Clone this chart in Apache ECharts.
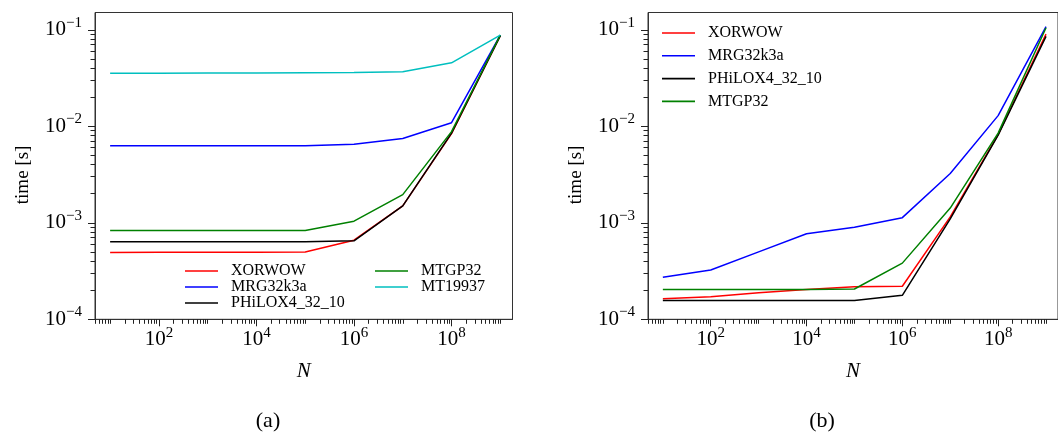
<!DOCTYPE html>
<html>
<head>
<meta charset="utf-8">
<script src="https://cdn.jsdelivr.net/npm/echarts@6/dist/echarts.min.js"></script>
<style>html,body{margin:0;padding:0;background:#fff}#c{width:1058px;height:432px}</style>
</head>
<body>
<div id="c"></div>
<script>
// ---------- data ----------
const N_values = [1e1, 1e2, 1e3, 1e4, 1e5, 1e6, 1e7, 1e8, 1e9];

// panel (a)
const a_XORWOW   = [0.000492, 0.000494, 0.000496, 0.000495, 0.000497, 0.00066, 0.0015, 0.0084, 0.087];
const a_MRG32k3a = [0.00628, 0.00628, 0.00628, 0.00628, 0.00628, 0.00653, 0.00748, 0.0109, 0.088];
const a_PHILOX   = [0.000635, 0.000635, 0.000635, 0.000635, 0.000638, 0.000650, 0.00150, 0.0085, 0.087];
const a_MTGP32   = [0.00083, 0.00083, 0.00083, 0.00083, 0.00083, 0.00104, 0.00196, 0.0088, 0.088];
const a_MT19937  = [0.0355, 0.0355, 0.0357, 0.0357, 0.0359, 0.036, 0.0367, 0.0455, 0.088];

// panel (b)
const b_XORWOW   = [0.000163, 0.000171, 0.000188, 0.000204, 0.000217, 0.00022, 0.00115, 0.0082, 0.09];
const b_MRG32k3a = [0.000273, 0.000324, 0.0005, 0.000769, 0.0009, 0.00113, 0.00324, 0.0129, 0.108];
const b_PHILOX   = [0.000157, 0.000157, 0.000157, 0.000157, 0.000157, 0.000177, 0.0011, 0.0081, 0.0853];
const b_MTGP32   = [0.000204, 0.000204, 0.000204, 0.000204, 0.000206, 0.000382, 0.00142, 0.0085, 0.105];

// axis ticks
const xMajorTicks = [1e2, 1e4, 1e6, 1e8];
const yMajorTicks = [1e-4, 1e-3, 1e-2, 1e-1];
const xMin = Math.pow(10, 0.69), xMax = Math.pow(10, 9.25);
const yMin = 1e-4, yMax = Math.pow(10, -0.821);

function minorTicks(lo, hi, skip) {
  const out = [];
  for (let e = -6; e <= 10; e++) {
    for (let k = 1; k <= 9; k++) {
      const v = k * Math.pow(10, e);
      if (v < lo * 0.9999 || v > hi * 1.0001) continue;
      if (skip.some(s => Math.abs(s - v) / v < 1e-9)) continue;
      out.push(v);
    }
  }
  return out;
}
const xMinorTicks = minorTicks(xMin, xMax, xMajorTicks);
const yMinorTicks = minorTicks(yMin, yMax, yMajorTicks);

// ---------- style ----------
const FONT = "'Liberation Serif', 'Times New Roman', serif";
const AX = '#333';

function sciLabel(v) {
  const e = Math.round(Math.log10(v));
  return '{b|10}{s|' + (e < 0 ? '\u2212' + (-e) : e) + '}';
}
const rich = {
  b: { fontFamily: FONT, fontSize: 21, lineHeight: 21, color: '#000', verticalAlign: 'bottom' },
  s: { fontFamily: FONT, fontSize: 15, lineHeight: 15, color: '#000', verticalAlign: 'bottom', padding: [0, 0, 10, 0] }
};

function xAxes(g) {
  return [
    {
      type: 'log', gridIndex: g, min: xMin, max: xMax, position: 'bottom',
      axisLine: { show: true, lineStyle: { color: AX, width: 1 } },
      axisTick: { show: true, inside: false, length: 7, lineStyle: { color: '#222', width: 1 }, customValues: xMajorTicks },
      axisLabel: { show: true, customValues: xMajorTicks, formatter: sciLabel, rich: rich, margin: 10 },
      splitLine: { show: false }, minorTick: { show: false },
      name: 'N', nameLocation: 'middle', nameGap: 42,
      nameTextStyle: { fontFamily: FONT, fontStyle: 'italic', fontSize: 21, color: '#000' }
    },
    {
      type: 'log', gridIndex: g, min: xMin, max: xMax, position: 'bottom',
      axisLine: { show: false },
      axisTick: { show: true, inside: false, length: 4.5, lineStyle: { color: '#222', width: 1 }, customValues: xMinorTicks },
      axisLabel: { show: false }, splitLine: { show: false }
    }
  ];
}
function yAxes(g) {
  return [
    {
      type: 'log', gridIndex: g, min: yMin, max: yMax, position: 'left',
      axisLine: { show: true, lineStyle: { color: AX, width: 1 } },
      axisTick: { show: true, inside: false, length: 7, lineStyle: { color: '#222', width: 1 }, customValues: yMajorTicks },
      axisLabel: { show: true, customValues: yMajorTicks, formatter: sciLabel, rich: rich, margin: 13 },
      splitLine: { show: false }, minorTick: { show: false },
      name: 'time [s]', nameLocation: 'middle', nameGap: 62,
      nameTextStyle: { fontFamily: FONT, fontSize: 19, color: '#000', padding: [0, 18, 0, 0] }
    },
    {
      type: 'log', gridIndex: g, min: yMin, max: yMax, position: 'left',
      axisLine: { show: false },
      axisTick: { show: true, inside: false, length: 4.5, lineStyle: { color: '#222', width: 1 }, customValues: yMinorTicks },
      axisLabel: { show: false }, splitLine: { show: false }
    }
  ];
}

const COLORS = { XORWOW: '#ff0000', MRG32k3a: '#0000ff', PHiLOX4_32_10: '#000000', MTGP32: '#008000', MT19937: '#00bfbf' };

function mk(name, arr, g) {
  const c = COLORS[name];
  return {
    type: 'line', name: name, xAxisIndex: g * 2, yAxisIndex: g * 2,
    data: N_values.map((x, i) => [x, arr[i]]),
    color: c, showSymbol: false, symbol: 'none',
    lineStyle: { width: 1.5, color: c }, itemStyle: { color: c },
    animation: false
  };
}

const legendText = { fontFamily: FONT, fontSize: 16, lineHeight: 16, color: '#000', padding: [0, 0, 0, 8] };
function legend(names, left, top, gap) {
  return {
    data: names, left: left, top: top, orient: 'vertical', itemGap: gap,
    icon: 'rect', itemWidth: 33, itemHeight: 1.6, padding: 0,
    selectedMode: false, textStyle: legendText
  };
}

const option = {
  animation: false,
  backgroundColor: '#fff',
  grid: [
    { left: 95, top: 12.5, width: 417.5, height: 306.8, show: true, borderColor: AX, borderWidth: 1, containLabel: false },
    { left: 648, top: 12.5, width: 419.5, height: 306.8, show: true, borderColor: AX, borderWidth: 1, containLabel: false }
  ],
  xAxis: [].concat(xAxes(0), xAxes(1)),
  yAxis: [].concat(yAxes(0), yAxes(1)),
  legend: [
    legend(['XORWOW', 'MRG32k3a', 'PHiLOX4_32_10'], 185, 263, 0),
    legend(['MTGP32', 'MT19937'], 375, 263, 0),
    legend(['XORWOW', 'MRG32k3a', 'PHiLOX4_32_10', 'MTGP32'], 662, 25, 6.8)
  ],
  graphic: [
    { type: 'text', x: 268, y: 421, style: { text: '(a)', fontFamily: FONT, fontSize: 22, fill: '#000', align: 'center', verticalAlign: 'middle', textAlign: 'center', textVerticalAlign: 'middle' } },
    { type: 'text', x: 822, y: 421, style: { text: '(b)', fontFamily: FONT, fontSize: 22, fill: '#000', align: 'center', verticalAlign: 'middle', textAlign: 'center', textVerticalAlign: 'middle' } }
  ],
  series: [
    mk('XORWOW', a_XORWOW, 0),
    mk('MRG32k3a', a_MRG32k3a, 0),
    mk('PHiLOX4_32_10', a_PHILOX, 0),
    mk('MTGP32', a_MTGP32, 0),
    mk('MT19937', a_MT19937, 0),
    mk('XORWOW', b_XORWOW, 1),
    mk('MRG32k3a', b_MRG32k3a, 1),
    mk('PHiLOX4_32_10', b_PHILOX, 1),
    mk('MTGP32', b_MTGP32, 1)
  ]
};

const chart = echarts.init(document.getElementById('c'), null, { renderer: 'canvas' });
chart.setOption(option);
</script>
</body>
</html>
